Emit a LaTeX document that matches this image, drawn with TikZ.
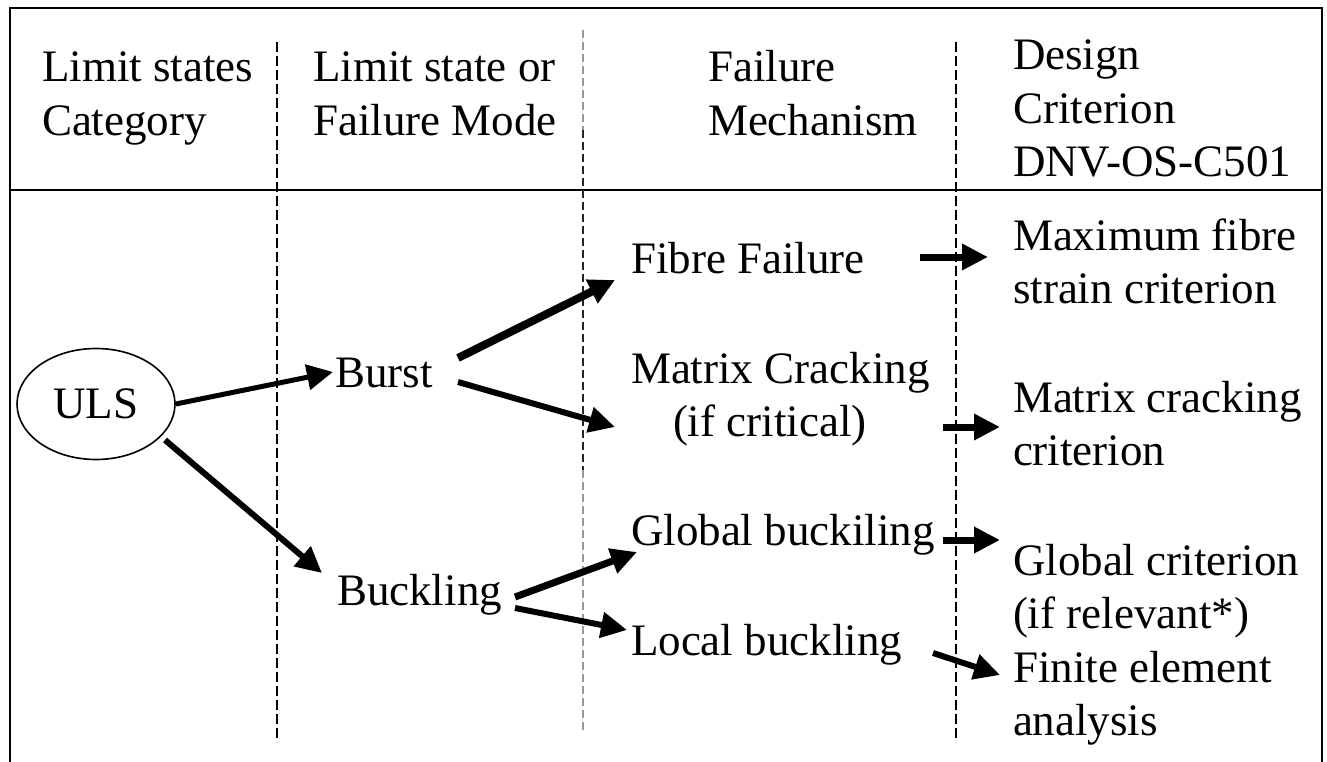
\documentclass[tikz,border=0pt]{standalone}
\usepackage{fontspec}
\setmainfont{Liberation Serif}
\usetikzlibrary{arrows.meta,shapes.geometric}
\newcommand{\mlines}[1]{\vtop{\halign{##\hfil\cr#1\crcr}}}
\tikzset{
  txt/.style={anchor=base west,inner sep=0pt,outer sep=0pt,font=\fontsize{45}{53.5}\selectfont},
  frame/.style={line width=2.5pt,black},
  sepA/.style={line width=2.8pt,black,dash pattern=on 10pt off 4pt},
  sepB/.style={line width=1.2pt,black!40,dash pattern=on 8pt off 4pt},
  sepC/.style={line width=1.4pt,black!85,dash pattern=on 8pt off 4pt},
  arr/.style={line width=6pt,-{Triangle[length=26pt,width=25pt]}},
}
\begin{document}
\begin{tikzpicture}[x=1pt,y=-1pt]
\useasboundingbox (0,0) rectangle (1327,762);
% frame
\draw[frame] (10,762) -- (10,8) -- (1322,8) -- (1322,762);
\draw[frame] (10,190) -- (1322,190);
% column separators
\draw[sepA] (277,42) -- (277,742);
\draw[sepB] (583,30) -- (583,130);
\draw[sepC] (583,130) -- (583,470);
\draw[sepB] (583,470) -- (583,730);
\draw[sepA] (956,42) -- (956,742);
% header
\node[txt] (h1) at (42,82) {\mlines{Limit states\cr Category}};
\node[txt] (h2) at (313,82) {\mlines{Limit state or\cr Failure Mode}};
\node[txt] (h3) at (708,82) {\mlines{Failure\cr Mechanism}};
\node[txt] (h4) at (1013,70) {\mlines{Design\cr Criterion\cr DNV-OS-C501}};
% body
\node[draw,ellipse,line width=1.6pt,minimum width=158pt,minimum height=111pt,inner sep=0pt,
      font=\fontsize{45}{53.5}\selectfont] (uls) at (96,404) {ULS};
\node[txt] (burst) at (335,387) {Burst};
\node[txt] (buckling) at (337,605) {Buckling};
\node[txt] (fibre) at (631,273) {Fibre Failure};
\node[txt] (matrix) at (631,383) {\mlines{Matrix Cracking\cr\hspace*{42pt}(if critical)}};
\node[txt] (globalb) at (631,545) {Global buckiling};
\node[txt] (localb) at (631,655) {Local buckling};
\node[txt] (maxfibre) at (1013,250) {\mlines{Maximum fibre\cr strain criterion}};
\node[txt] (matrixcrit) at (1013,412) {\mlines{Matrix cracking\cr criterion}};
\node[txt] (globalcrit) at (1013,575) {\mlines{Global criterion\cr (if relevant*)}};
\node[txt] (fem) at (1013,682) {\mlines{Finite element\cr analysis}};
% connectors
\draw[arr,line width=5pt] (uls.east) -- ([shift={(-2,-15)}]burst.base west);
\draw[arr] ([shift={(69,36)}]uls.center) -- ([shift={(-15,-32)}]buckling.base west);
\draw[arr,line width=8pt] ([shift={(123,-29)}]burst.base west) -- ([shift={(-16,7)}]fibre.base west);
\draw[arr] ([shift={(123,-5)}]burst.base west) -- ([shift={(-16,44)}]matrix.base west);
\draw[arr,line width=7pt] ([shift={(178,-8)}]buckling.base west) -- ([shift={(6,7)}]globalb.base west);
\draw[arr] ([shift={(178,3)}]buckling.base west) -- ([shift={(-4,-25)}]localb.base west);
\draw[arr,line width=7pt] ([shift={(289,-16)}]fibre.base west) -- ([shift={(-25,7)}]maxfibre.base west);
\draw[arr,line width=7pt] ([shift={(312,44)}]matrix.base west) -- ([shift={(-13,15)}]matrixcrit.base west);
\draw[arr,line width=7pt] ([shift={(312,-5)}]globalb.base west) -- ([shift={(-13,-35)}]globalcrit.base west);
\draw[arr] ([shift={(302,-2)}]localb.base west) -- ([shift={(-13,-7)}]fem.base west);
\end{tikzpicture}
\end{document}
